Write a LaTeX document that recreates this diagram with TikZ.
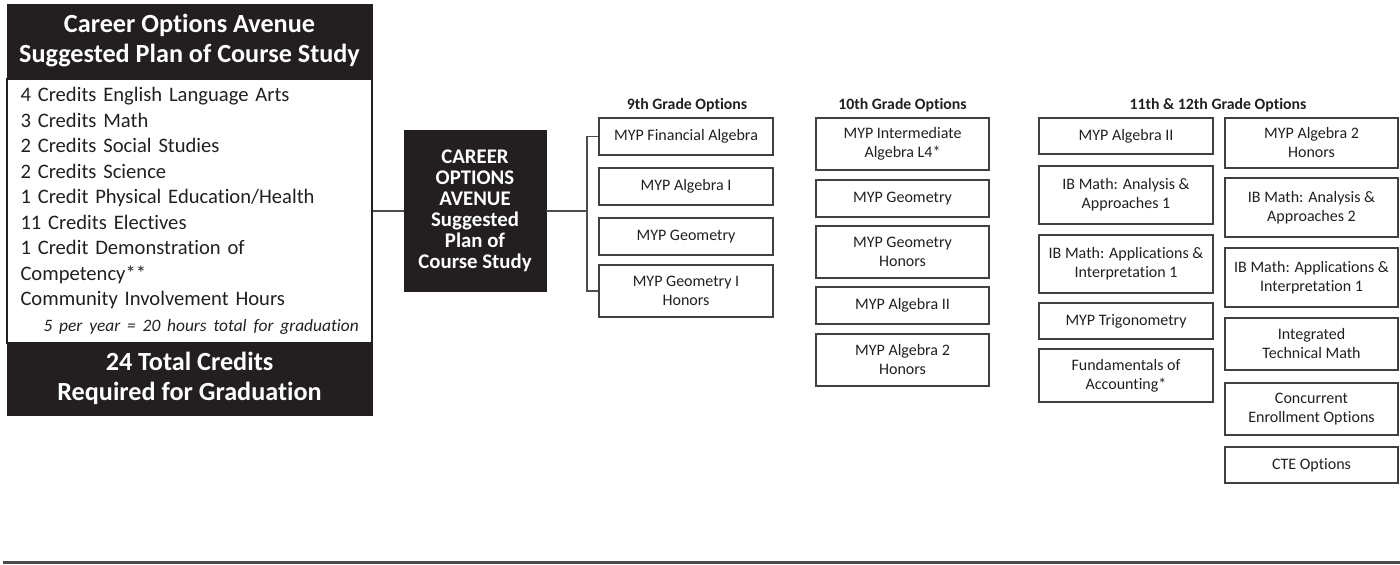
\documentclass[tikz,border=0pt]{standalone}
\usepackage{fontspec}
\setmainfont{Carlito}[Ligatures=NoCommon]
\usetikzlibrary{positioning}

\begin{document}
\begin{tikzpicture}[x=0.5pt,y=-0.5pt]
      \definecolor{myblack}{HTML}{231F20}
      \colorlet{mygray}{black!75}
      \colorlet{myline}{black!70}

      \tikzset{
        darkbox/.style={fill=myblack,draw=myblack,text=white,align=center,inner sep=0,minimum width=182.5pt},
        course/.style={draw=mygray,line width=0.7pt,text=myblack,align=center,inner sep=0,
          font=\fontsize{8}{9.5}\selectfont},
        gradelabel/.style={text=myblack,font=\bfseries\fontsize{7.9}{9}\selectfont},
        link/.style={draw=myline,line width=0.7pt}
      }

      % one option box: name, centre, width, height, text
      \def\course#1#2#3#4#5{\node[course,minimum width=#3,minimum height=#4] (#1) at (#2) {#5};}

      \useasboundingbox (0,0) rectangle (1400,565);

      % PLAN OF STUDY
      \node[darkbox,minimum height=37pt,font=\bfseries\fontsize{13.1}{15}\selectfont]
      (head) at (189.5,41) {Career Options Avenue\\Suggested Plan of Course Study};
      \node[draw=myblack,line width=0.8pt,minimum width=182.5pt,minimum height=132pt,
        text width=169pt,inner xsep=6.5pt,align=left,text=myblack,
        font=\fontsize{10.3}{12.75}\selectfont]
      (body) at (189.5,211) {4 Credits English Language Arts\\
        3 Credits Math\\
        2 Credits Social Studies\\
        2 Credits Science\\
        1 Credit Physical Education/Health\\
        11 Credits Electives\\
        1 Credit Demonstration of\\
        Competency**\\
        Community Involvement Hours\\
        \hspace*{11.5pt}\mbox{\itshape\fontsize{8.7}{12.75}\selectfont 5 per year = 20 hours total for graduation}};
      \node[darkbox,minimum height=36.5pt,font=\bfseries\fontsize{13.1}{15}\selectfont]
      (total) at (189.5,378.5) {24 Total Credits\\Required for Graduation};

      % AVENUE
      \node[darkbox,minimum width=71pt,minimum height=80.5pt,
        font=\bfseries\fontsize{10.4}{10.5}\selectfont]
      (hub) at (475,211) {CAREER\\OPTIONS\\AVENUE\\Suggested\\Plan of\\Course Study};

      % 9TH GRADE
      \node[gradelabel] (lab9) at (687,105) {9th Grade Options};
      \course{g9a}{686,136.5}{87pt}{18.5pt}{MYP Financial Algebra}
      \course{g9b}{686,186.5}{87pt}{18.5pt}{MYP Algebra I}
      \course{g9c}{686,236.5}{87pt}{18.5pt}{MYP Geometry}
      \course{g9d}{686,291}{87pt}{26pt}{MYP Geometry I\\Honors}

      % 10TH GRADE
      \node[gradelabel] (lab10) at (902.5,105) {10th Grade Options};
      \course{g10a}{902.5,144}{86.5pt}{26pt}{MYP Intermediate\\Algebra L4*}
      \course{g10b}{902.5,198.5}{86.5pt}{18.5pt}{MYP Geometry}
      \course{g10c}{902.5,252}{86.5pt}{26pt}{MYP Geometry\\Honors}
      \course{g10d}{902.5,305.5}{86.5pt}{18.5pt}{MYP Algebra II}
      \course{g10e}{902.5,360}{86.5pt}{26pt}{MYP Algebra 2\\Honors}

      % 11TH & 12TH GRADE
      \node[gradelabel] (lab11) at (1218,105) {11th \& 12th Grade Options};
      \course{g11a}{1126,136}{87pt}{18pt}{MYP Algebra II}
      \course{g11b}{1126,195}{87pt}{29pt}{IB Math: Analysis \&\\Approaches 1}
      \course{g11c}{1126,264}{87pt}{29pt}{IB Math: Applications \&\\Interpretation 1}
      \course{g11d}{1126,321}{87pt}{18pt}{MYP Trigonometry}
      \course{g11e}{1126,375.5}{87pt}{26.5pt}{Fundamentals of\\Accounting*}

      \course{g12a}{1311.5,143}{86.5pt}{25pt}{MYP Algebra 2\\Honors}
      \course{g12b}{1311.5,207.5}{86.5pt}{29.5pt}{IB Math: Analysis \&\\Approaches 2}
      \course{g12c}{1311.5,277.5}{86.5pt}{29.5pt}{IB Math: Applications \&\\Interpretation 1}
      \course{g12d}{1311.5,344}{86.5pt}{26pt}{Integrated\\Technical Math}
      \course{g12e}{1311.5,409}{86.5pt}{26pt}{Concurrent\\Enrollment Options}
      \course{g12f}{1311.5,465}{86.5pt}{18pt}{CTE Options}

      % LINKS
      \coordinate (brk) at (587,211);
      \draw[link] (body.east) -- (hub.west);
      \draw[link] (hub.east) -- (brk);
      \draw[link] (g9a.west) -| (brk) |- (g9d.west);

      % RULE
      \draw[myline,line width=1.5pt] (3,562) -- (1400,562);

    \end{tikzpicture}
\end{document}
